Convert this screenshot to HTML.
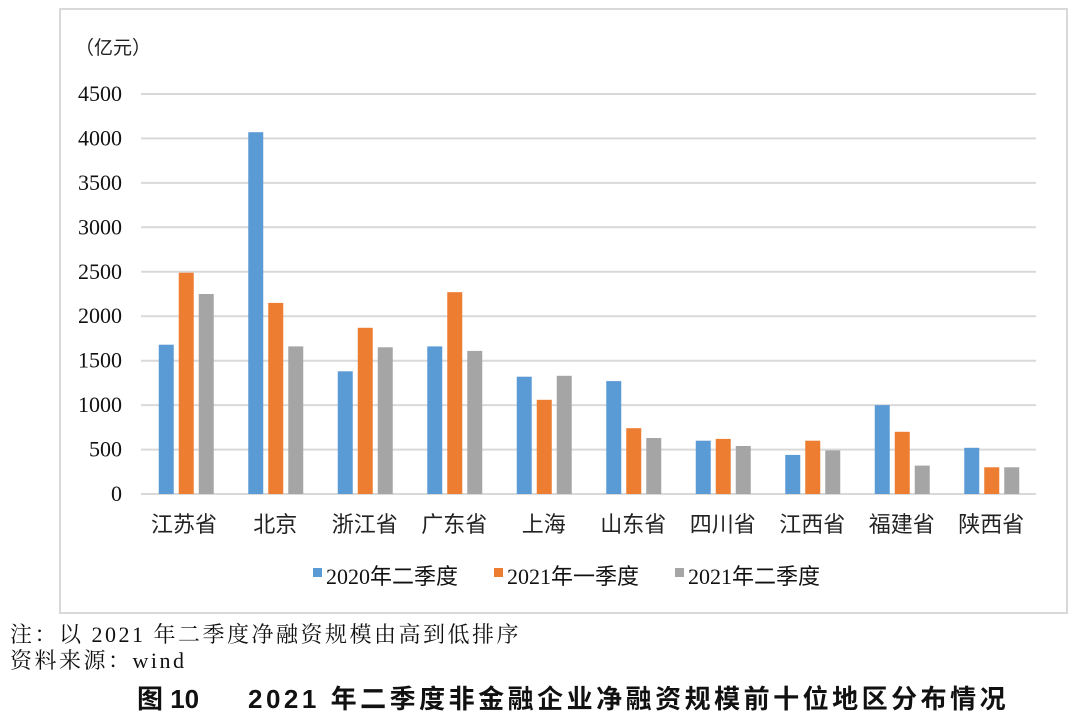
<!DOCTYPE html>
<html><head><meta charset="utf-8"><style>
html,body{margin:0;padding:0;background:#fff;}
svg{display:block;}
</style></head><body>
<svg width="1080" height="722" xmlns="http://www.w3.org/2000/svg">
<rect x="60" y="9" width="1007" height="604" fill="#fff" stroke="#d9d9d9" stroke-width="2"/>
<text x="75" y="54" font-family="'Liberation Sans','Noto Sans CJK SC',sans-serif" font-size="19" fill="#222">（亿元）</text>
<g stroke="#d9d9d9" stroke-width="2">
<line x1="141" x2="1036" y1="94" y2="94"/><line x1="141" x2="1036" y1="138.4" y2="138.4"/>
<line x1="141" x2="1036" y1="182.9" y2="182.9"/><line x1="141" x2="1036" y1="227.3" y2="227.3"/>
<line x1="141" x2="1036" y1="271.8" y2="271.8"/><line x1="141" x2="1036" y1="316.2" y2="316.2"/>
<line x1="141" x2="1036" y1="360.7" y2="360.7"/><line x1="141" x2="1036" y1="405.1" y2="405.1"/>
<line x1="141" x2="1036" y1="449.6" y2="449.6"/><line x1="141" x2="1036" y1="494" y2="494"/>
</g>
<g font-family="'Liberation Serif',serif" font-size="22" fill="#111" text-anchor="end">
<text x="122" y="101">4500</text><text x="122" y="145.4">4000</text><text x="122" y="189.9">3500</text>
<text x="122" y="234.3">3000</text><text x="122" y="278.8">2500</text><text x="122" y="323.2">2000</text>
<text x="122" y="367.7">1500</text><text x="122" y="412.1">1000</text><text x="122" y="456.6">500</text>
<text x="122" y="501">0</text>
</g>
<g fill="#5b9bd5">
<rect x="158.75" y="344.7" width="15" height="149.3"/>
<rect x="248.25" y="132.2" width="15" height="361.8"/>
<rect x="337.75" y="371.3" width="15" height="122.7"/>
<rect x="427.25" y="346.4" width="15" height="147.6"/>
<rect x="516.75" y="376.7" width="15" height="117.3"/>
<rect x="606.25" y="381.1" width="15" height="112.9"/>
<rect x="695.75" y="440.7" width="15" height="53.3"/>
<rect x="785.25" y="454.9" width="15" height="39.1"/>
<rect x="874.75" y="405.1" width="15" height="88.9"/>
<rect x="964.25" y="447.8" width="15" height="46.2"/>
</g>
<g fill="#ed7d31">
<rect x="178.75" y="272.7" width="15" height="221.3"/>
<rect x="268.25" y="302.9" width="15" height="191.1"/>
<rect x="357.75" y="327.8" width="15" height="166.2"/>
<rect x="447.25" y="292.2" width="15" height="201.8"/>
<rect x="536.75" y="399.8" width="15" height="94.2"/>
<rect x="626.25" y="428.2" width="15" height="65.8"/>
<rect x="715.75" y="438.9" width="15" height="55.1"/>
<rect x="805.25" y="440.7" width="15" height="53.3"/>
<rect x="894.75" y="431.8" width="15" height="62.2"/>
<rect x="984.25" y="467.3" width="15" height="26.7"/>
</g>
<g fill="#a5a5a5">
<rect x="198.75" y="294" width="15" height="200"/>
<rect x="288.25" y="346.4" width="15" height="147.6"/>
<rect x="377.75" y="347.3" width="15" height="146.7"/>
<rect x="467.25" y="350.9" width="15" height="143.1"/>
<rect x="556.75" y="375.8" width="15" height="118.2"/>
<rect x="646.25" y="438" width="15" height="56"/>
<rect x="735.75" y="446" width="15" height="48"/>
<rect x="825.25" y="450.4" width="15" height="43.6"/>
<rect x="914.75" y="465.6" width="15" height="28.4"/>
<rect x="1004.25" y="467.3" width="15" height="26.7"/>
</g>
<g font-family="'Liberation Sans','Noto Sans CJK SC',sans-serif" font-size="22" fill="#222" text-anchor="middle">
<text x="184" y="532">江苏省</text><text x="275.25" y="532">北京</text><text x="364.75" y="532">浙江省</text>
<text x="454.25" y="532">广东省</text><text x="543.75" y="532">上海</text><text x="633.25" y="532">山东省</text>
<text x="722.75" y="532">四川省</text><text x="812.25" y="532">江西省</text><text x="901.75" y="532">福建省</text>
<text x="991.25" y="532">陕西省</text>
</g>
<g font-family="'Liberation Serif','Noto Sans CJK SC',serif" font-size="22" fill="#111">
<rect x="313" y="568" width="9" height="9" fill="#5b9bd5"/><text x="326" y="584">2020年二季度</text>
<rect x="494" y="568" width="9" height="9" fill="#ed7d31"/><text x="507" y="584">2021年一季度</text>
<rect x="675" y="568" width="9" height="9" fill="#a5a5a5"/><text x="688" y="584">2021年二季度</text>
</g>
<g font-family="'Liberation Serif','Noto Serif CJK SC',serif" font-size="22" fill="#111" letter-spacing="2.5">
<text x="10" y="642">注：以 2021 年二季度净融资规模由高到低排序</text>
<text x="10" y="668">资料来源：wind</text>
</g>
<g font-family="'Liberation Sans','Noto Sans CJK SC',sans-serif" font-size="26" font-weight="bold" fill="#111">
<text x="137" y="708">图 10</text>
<text x="248" y="708" letter-spacing="3.5">2021 年二季度非金融企业净融资规模前十位地区分布情况</text>
</g>
</svg>
</body></html>
